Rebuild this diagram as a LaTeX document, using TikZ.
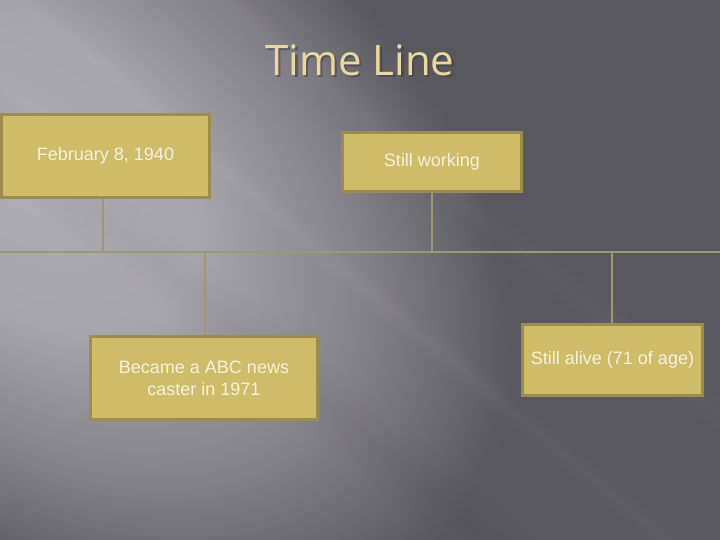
\documentclass[tikz,border=0pt]{standalone}
\usepackage{fontspec}
\setmainfont{Liberation Sans}
\newfontfamily\titlefont{Open Sans}
\usetikzlibrary{fadings}
\definecolor{boxfill}{HTML}{CFBC68}
\definecolor{boxedge}{HTML}{9C8C52}
\definecolor{boxtext}{HTML}{F6F2DF}
\definecolor{lineclr}{HTML}{A09672}
\definecolor{bgdark}{HTML}{5A585F}
\definecolor{beamA}{HTML}{B0AEB5}
\definecolor{beamB}{HTML}{A7A5AC}
\definecolor{beamC}{HTML}{817F86}
\definecolor{titleclr}{HTML}{E9D9A0}
\pgfdeclareradialshading{beamshade}{\pgfpointorigin}{color(0bp)=(beamA); color(9bp)=(beamB); color(18bp)=(beamC); color(25bp)=(bgdark); color(50bp)=(bgdark)}
\tikzfading[name=streakfade, top color=transparent!100, bottom color=transparent!100, middle color=transparent!40]
\begin{document}
\begin{tikzpicture}[x=1pt,y=-1pt,
  evbox/.style={draw=boxedge,line width=3pt,fill=boxfill,text=boxtext,
    font=\fontsize{18}{22}\selectfont,align=center,inner sep=0pt},
  tline/.style={draw=lineclr,line width=1.2pt}]
\useasboundingbox (0,0) rectangle (720,540);
% background
\begin{scope}
\clip (0,0) rectangle (720,540);
\fill[bgdark] (0,0) rectangle (720,540);
\begin{scope}[transform canvas={rotate around={-38:(20,170)}}]
\shade[shading=beamshade] (20,170) ellipse [x radius=560, y radius=360];
\end{scope}
\begin{scope}[transform canvas={rotate around={-40:(380,300)}}]
\fill[white,opacity=0.07,path fading=streakfade] (-600,285) rectangle (1400,315);
\fill[white,opacity=0.05,path fading=streakfade] (-600,150) rectangle (1400,190);
\fill[black,opacity=0.06,path fading=streakfade] (-600,380) rectangle (1400,450);
\end{scope}
\end{scope}
% title
\node[text=black!75,opacity=0.55,font=\titlefont\fontsize{42}{46}\selectfont] at (362.5,62.5) {Time Line};
\node (title) [text=titleclr,font=\titlefont\fontsize{42}{46}\selectfont] at (360,60) {Time Line};
% boxes
\node (b1) [evbox,minimum width=208pt,minimum height=83pt] at (105.5,156) {February 8, 1940};
\node (b2) [evbox,minimum width=179pt,minimum height=59pt] at (432,162) {Still working};
\node (b3) [evbox,minimum width=227pt,minimum height=83pt] at (204,378) {Became a ABC news\\caster in 1971};
\node (b4) [evbox,minimum width=180pt,minimum height=71pt] at (612.5,360) {Still alive (71 of age)};
% timeline
\coordinate (L) at (0,252);
\coordinate (R) at (720,252);
\draw[tline] (L) -- (R);
\coordinate (c1) at (103,252);
\coordinate (c2) at (432,252);
\coordinate (c3) at (205,252);
\coordinate (c4) at (612,252);
\draw[tline] (b1.south -| c1) -- (c1);
\draw[tline] (b2.south) -- (c2);
\draw[tline] (c3) -- (b3.north -| c3);
\draw[tline] (c4) -- (b4.north -| c4);
\end{tikzpicture}
\end{document}
